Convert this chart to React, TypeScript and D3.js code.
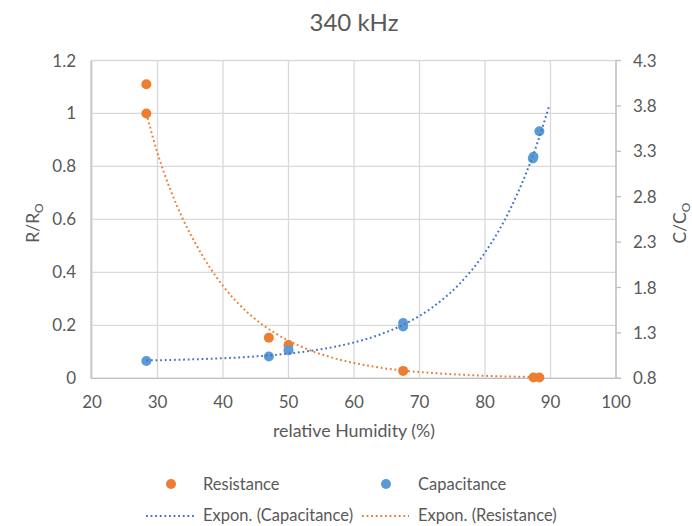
import React from "react";
import * as d3 from "d3";

// axis ticks
const humidityTicks = [20, 30, 40, 50, 60, 70, 80, 90, 100];
const resistanceTicks = [0, 0.2, 0.4, 0.6, 0.8, 1, 1.2];
const capacitanceTicks = [0.8, 1.3, 1.8, 2.3, 2.8, 3.3, 3.8, 4.3];

// measured points
const resHumidity = [28.3, 28.3, 47.0, 50.0, 67.5, 87.4, 88.3];
const resistance = [1.11, 1.0, 0.153, 0.126, 0.028, 0.003, 0.003];
const capHumidity = [28.3, 47.0, 50.0, 67.5, 67.5, 87.3, 87.4, 88.3];
const capacitance = [0.99, 1.04, 1.11, 1.41, 1.37, 3.22, 3.24, 3.52];

// exponential trendlines
const resTrendHumidity = [28.3, 30, 32, 34, 36, 38, 40, 42, 44, 46, 48, 50, 52, 54, 56, 58, 60, 64, 68, 72, 76, 80, 84, 88.3];
const resTrend = [1.0, 0.85, 0.71, 0.595, 0.5, 0.418, 0.349, 0.291, 0.243, 0.203, 0.17, 0.142, 0.119, 0.099, 0.083, 0.069, 0.058, 0.04, 0.028, 0.02, 0.014, 0.0095, 0.0066, 0.0045];
const capTrendHumidity = [28.3, 32, 36, 40, 44, 48, 52, 56, 60, 64, 68, 72, 76, 80, 84, 88, 89.8];
const capTrend = [0.997, 1.002, 1.01, 1.021, 1.036, 1.058, 1.089, 1.133, 1.195, 1.283, 1.407, 1.583, 1.832, 2.185, 2.685, 3.393, 3.8];

const W = 692, H = 526;
const grey = "#595959";
const gridColor = "#D9D9D9";
const orange = "#ED7D31";
const blue = "#5B9BD5";
const trendBlue = "#4472C4";
const font = "Lato, 'Open Sans', sans-serif";
const dots = "1.8 2.8";

export default function App() {
  const x = d3.scaleLinear().domain([20, 100]).range([92, 616]);
  const yL = d3.scaleLinear().domain([0, 1.2]).range([378.3, 60.5]);
  const yR = d3.scaleLinear().domain([0.8, 4.3]).range([378.3, 60.5]);

  const resLine = d3.line<number>()
    .x(i => x(resTrendHumidity[i]))
    .y(i => yL(resTrend[i]))
    .curve(d3.curveMonotoneX);
  const capLine = d3.line<number>()
    .x(i => x(capTrendHumidity[i]))
    .y(i => yR(capTrend[i]))
    .curve(d3.curveMonotoneX);

  const [x0, x1] = x.range();
  const [yb, yt] = yL.range();

  return (
    <svg width={W} height={H} style={{ position: "absolute", left: 0, top: 0 }} fontFamily={font}>
      <rect width={W} height={H} fill="#fff" />
      <text x={354} y={31} textAnchor="middle" fontSize={24} fill={grey}>340 kHz</text>

      {/* gridlines */}
      {resistanceTicks.map(t => (
        <line key={"h" + t} x1={x0} x2={x1} y1={yL(t)} y2={yL(t)} stroke={gridColor} strokeWidth={1.3} />
      ))}
      {humidityTicks.map(t => (
        <line key={"v" + t} x1={x(t)} x2={x(t)} y1={yb} y2={yt} stroke={gridColor} strokeWidth={1.3} />
      ))}

      {/* axes */}
      <line x1={x0 - 1} x2={x0 - 1} y1={yb} y2={yt} stroke="#BFBFBF" strokeWidth={1.3} />
      <line x1={x0 - 1} x2={x1 + 5} y1={yb} y2={yb} stroke="#BFBFBF" strokeWidth={1.3} />
      <line x1={x1} x2={x1} y1={yb} y2={yt} stroke="#BFBFBF" strokeWidth={1.3} />
      {capacitanceTicks.map(t => (
        <line key={"rt" + t} x1={x1} x2={x1 + 5} y1={yR(t)} y2={yR(t)} stroke="#BFBFBF" strokeWidth={1.3} />
      ))}

      {/* tick labels */}
      {resistanceTicks.map(t => (
        <text key={"lt" + t} x={76} y={yL(t) + 6} textAnchor="end" fontSize={17} fill={grey}>{t}</text>
      ))}
      {capacitanceTicks.map(t => (
        <text key={"rl" + t} x={633} y={yR(t) + 6} textAnchor="start" fontSize={17} fill={grey}>{t.toFixed(1)}</text>
      ))}
      {humidityTicks.map(t => (
        <text key={"bt" + t} x={x(t)} y={408} textAnchor="middle" fontSize={17} fill={grey}>{t}</text>
      ))}

      {/* axis titles */}
      <text x={354} y={437} textAnchor="middle" fontSize={17.8} fill={grey}>relative Humidity (%)</text>
      <text transform="translate(39,223) rotate(-90)" textAnchor="middle" fontSize={17.5} fill={grey}>
        R/R<tspan fontSize={12} dy={4}>O</tspan>
      </text>
      <text transform="translate(686,223) rotate(-90)" textAnchor="middle" fontSize={17.5} fill={grey}>
        C/C<tspan fontSize={12} dy={4}>O</tspan>
      </text>

      {/* points */}
      {resHumidity.map((h, i) => (
        <circle key={"r" + i} cx={x(h)} cy={yL(resistance[i])} r={5} fill={orange} />
      ))}
      {capHumidity.map((h, i) => (
        <circle key={"c" + i} cx={x(h)} cy={yR(capacitance[i])} r={5} fill={blue} />
      ))}

      {/* trendlines */}
      <path d={resLine(d3.range(resTrend.length)) || ""} fill="none" stroke={orange} strokeWidth={2} strokeDasharray={dots} />
      <path d={capLine(d3.range(capTrend.length)) || ""} fill="none" stroke={trendBlue} strokeWidth={2} strokeDasharray={dots} />

      {/* legend */}
      <circle cx={171} cy={484} r={5} fill={orange} />
      <text x={203} y={490} fontSize={16.5} fill={grey}>Resistance</text>
      <circle cx={386} cy={484} r={5} fill={blue} />
      <text x={418} y={490} fontSize={16.5} fill={grey}>Capacitance</text>
      <line x1={146} x2={194} y1={516} y2={516} stroke={trendBlue} strokeWidth={2} strokeDasharray={dots} />
      <text x={203} y={521} fontSize={16.5} fill={grey}>Expon. (Capacitance)</text>
      <line x1={362} x2={409} y1={516} y2={516} stroke={orange} strokeWidth={2} strokeDasharray={dots} />
      <text x={418} y={521} fontSize={16.5} fill={grey}>Expon. (Resistance)</text>
    </svg>
  );
}
